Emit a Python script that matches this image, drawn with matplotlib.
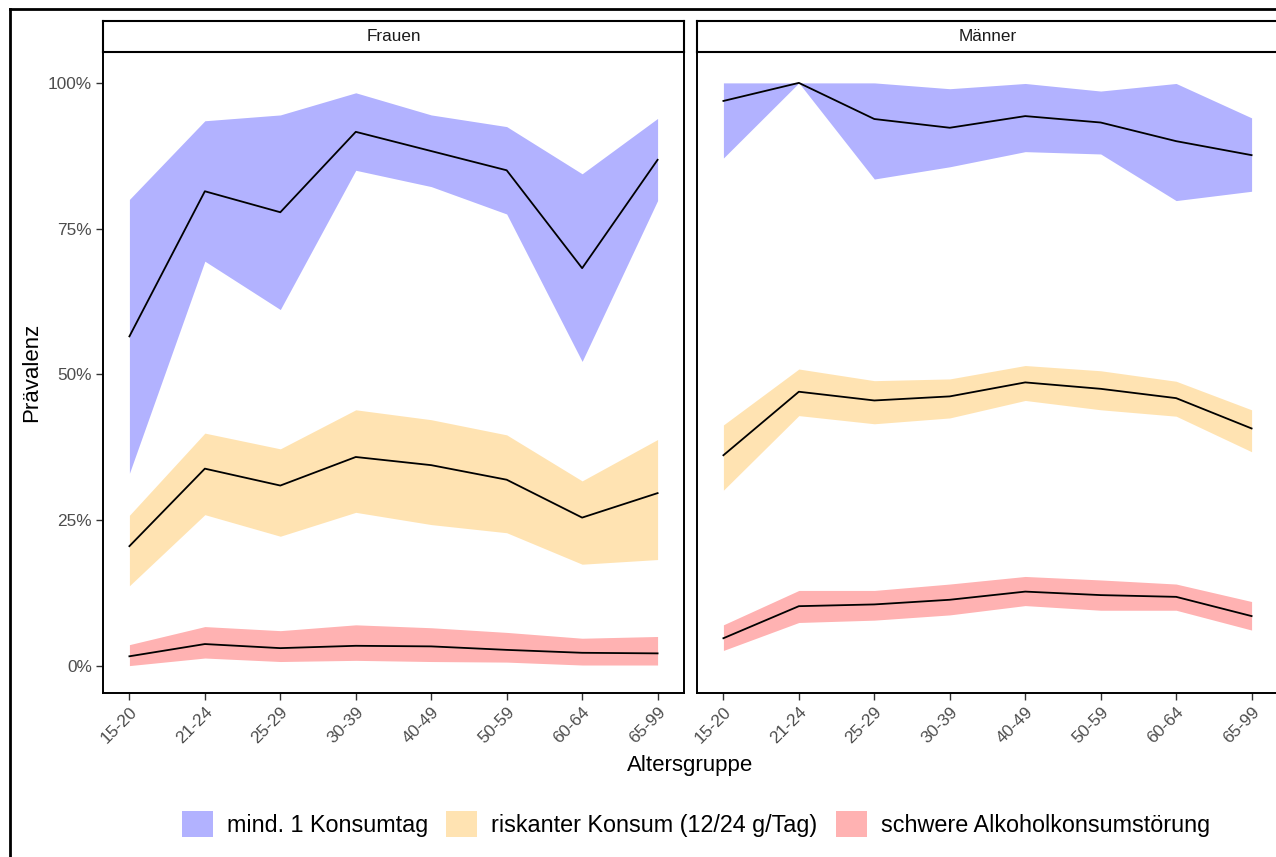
import numpy as np
import matplotlib
matplotlib.use("Agg")
import matplotlib.pyplot as plt
from matplotlib.patches import Patch
from matplotlib.lines import Line2D

plt.rcParams['font.family'] = ['Liberation Sans', 'DejaVu Sans']

# ------------------------------ Data ------------------------------

age_groups = ["15-20", "21-24", "25-29", "30-39", "40-49", "50-59", "60-64", "65-99"]
panels = ["Frauen", "Männer"]
series_names = ["mind. 1 Konsumtag", "riskanter Konsum (12/24 g/Tag)", "schwere Alkoholkonsumstörung"]

# Frauen
f_any_mid = [0.565, 0.814, 0.778, 0.916, 0.883, 0.850, 0.682, 0.868]
f_any_lo = [0.330, 0.694, 0.611, 0.850, 0.822, 0.775, 0.522, 0.798]
f_any_hi = [0.800, 0.935, 0.945, 0.983, 0.945, 0.925, 0.844, 0.939]

f_risk_mid = [0.205, 0.338, 0.309, 0.358, 0.344, 0.319, 0.254, 0.296]
f_risk_lo = [0.137, 0.259, 0.222, 0.263, 0.242, 0.228, 0.174, 0.182]
f_risk_hi = [0.258, 0.399, 0.372, 0.439, 0.422, 0.396, 0.317, 0.388]

f_aud_mid = [0.016, 0.037, 0.030, 0.034, 0.033, 0.027, 0.022, 0.021]
f_aud_lo = [0.000, 0.013, 0.007, 0.009, 0.007, 0.006, 0.001, 0.001]
f_aud_hi = [0.036, 0.067, 0.060, 0.070, 0.065, 0.057, 0.047, 0.050]

# Maenner
m_any_mid = [0.969, 1.000, 0.938, 0.923, 0.943, 0.932, 0.900, 0.876]
m_any_lo = [0.871, 1.000, 0.835, 0.856, 0.882, 0.878, 0.798, 0.814]
m_any_hi = [1.000, 1.000, 1.000, 0.990, 0.999, 0.986, 0.999, 0.940]

m_risk_mid = [0.361, 0.470, 0.455, 0.462, 0.486, 0.475, 0.459, 0.407]
m_risk_lo = [0.301, 0.429, 0.415, 0.425, 0.455, 0.439, 0.428, 0.367]
m_risk_hi = [0.413, 0.509, 0.489, 0.492, 0.515, 0.506, 0.488, 0.439]

m_aud_mid = [0.047, 0.102, 0.105, 0.113, 0.127, 0.121, 0.118, 0.085]
m_aud_lo = [0.026, 0.074, 0.078, 0.087, 0.103, 0.095, 0.095, 0.061]
m_aud_hi = [0.070, 0.129, 0.129, 0.140, 0.153, 0.147, 0.140, 0.110]

fill_colors = ["blue", "orange", "red"]

panel_data = {
    "Frauen": [(f_any_lo, f_any_mid, f_any_hi),
               (f_risk_lo, f_risk_mid, f_risk_hi),
               (f_aud_lo, f_aud_mid, f_aud_hi)],
    "Männer": [(m_any_lo, m_any_mid, m_any_hi),
               (m_risk_lo, m_risk_mid, m_risk_hi),
               (m_aud_lo, m_aud_mid, m_aud_hi)],
}

# ------------------------------ Layout ------------------------------

W, H = 1276, 857
fig = plt.figure(figsize=(W / 100, H / 100), dpi=100)

panel_left = [103, 697]
panel_w = 581
panel_top, panel_bottom = 52, 693
strip_top = 21

x = np.arange(len(age_groups))

for i, name in enumerate(panels):
    ax = fig.add_axes([panel_left[i] / W, 1 - panel_bottom / H,
                       panel_w / W, (panel_bottom - panel_top) / H])
    for (lo, mid, hi), col in zip(panel_data[name], fill_colors):
        ax.fill_between(x, lo, hi, color=col, alpha=0.3, linewidth=0)
        ax.plot(x, mid, color="black", lw=1.3)

    ax.set_xlim(-0.35, 7.35)
    ax.set_ylim(-0.047, 1.053)
    ax.set_xticks(x)
    ax.set_xticklabels(age_groups, rotation=45, ha="right", va="top",
                       rotation_mode="anchor", fontsize=12.4, color="#4D4D4D")
    ax.set_yticks([0, 0.25, 0.5, 0.75, 1.0])
    if i == 0:
        ax.set_yticklabels(["0%", "25%", "50%", "75%", "100%"],
                           fontsize=12.4, color="#4D4D4D")
        ax.tick_params(axis="y", length=5, width=1, color="#333333", pad=3)
    else:
        ax.tick_params(axis="y", length=0, labelleft=False)
    ax.tick_params(axis="x", length=5, width=1, color="#333333", pad=3)
    for sp in ax.spines.values():
        sp.set_color("black")
        sp.set_linewidth(1.4)

    # facet strip
    sax = fig.add_axes([panel_left[i] / W, 1 - panel_top / H,
                        panel_w / W, (panel_top - strip_top) / H])
    sax.set_xticks([])
    sax.set_yticks([])
    for sp in sax.spines.values():
        sp.set_color("black")
        sp.set_linewidth(1.5)
    sax.text(0.5, 0.5, name, ha="center", va="center", fontsize=12.3,
             color="#1A1A1A", transform=sax.transAxes)

# axis titles
fig.text(32 / W, 1 - 372 / H, "Prävalenz", rotation=90, ha="center", va="center",
         fontsize=16, color="black")
fig.text(690 / W, 1 - 765 / H, "Altersgruppe", ha="center", va="center",
         fontsize=16, color="black")

# legend
handles = [Patch(facecolor=c, alpha=0.3, edgecolor="none") for c in fill_colors]
fig.legend(handles, series_names, loc="center", bbox_to_anchor=(696 / W, 1 - 824 / H),
           ncol=3, frameon=False, fontsize=16.8, handlelength=1.33, handleheight=1.33,
           handletextpad=0.6, columnspacing=0.78, borderpad=0)

# outer frame
fig.add_artist(Line2D([10 / W, 10 / W], [0, 1 - 9 / H], color="black", lw=2))
fig.add_artist(Line2D([10 / W, 1], [1 - 9 / H, 1 - 9 / H], color="black", lw=2))

fig.savefig("out.png", dpi=100)
